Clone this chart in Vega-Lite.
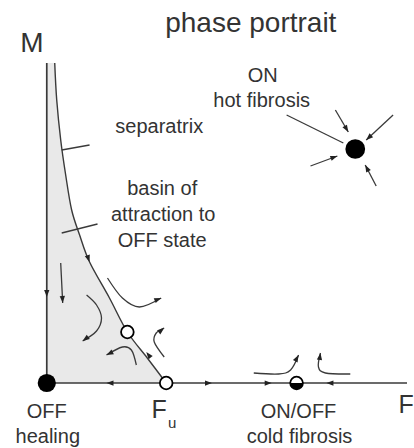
{
  "$schema": "https://vega.github.io/schema/vega-lite/v6.json",
  "width": 414,
  "height": 448,
  "autosize": {"type": "fit", "contains": "padding"},
  "padding": 0,
  "background": "white",
  "config": {"view": {"stroke": null}},
  "datasets": {
    "separatrix": [
      {"x": 0.8, "y": 32.0}, {"x": 1.0, "y": 28.3}, {"x": 1.4, "y": 24.3}, {"x": 1.9, "y": 20.8},
      {"x": 2.5, "y": 17.3}, {"x": 3.3, "y": 14.8}, {"x": 4.3, "y": 12.1}, {"x": 6.3, "y": 8.5},
      {"x": 8.1, "y": 5.1}, {"x": 10.1, "y": 2.5}, {"x": 12.0, "y": 0.0}
    ],
    "axes": [
      {"id": "M", "o": 1, "x": 0, "y": 32.0}, {"id": "M", "o": 2, "x": 0, "y": 0},
      {"id": "F", "o": 1, "x": 0, "y": 0}, {"id": "F", "o": 2, "x": 36.2, "y": 0}
    ],
    "lines": [
      {"id": "sepPointer", "o": 1, "x": 1.5, "y": 23.3}, {"id": "sepPointer", "o": 2, "x": 4.3, "y": 23.8},
      {"id": "basinPointer", "o": 1, "x": 1.5, "y": 15.0}, {"id": "basinPointer", "o": 2, "x": 5.1, "y": 15.9},
      {"id": "onPointer", "o": 1, "x": 24.1, "y": 26.8}, {"id": "onPointer", "o": 2, "x": 29.8, "y": 24.0},
      {"id": "a1", "o": 1, "x": 29.0, "y": 27.3}, {"id": "a1", "o": 2, "x": 30.3, "y": 25.1},
      {"id": "a2", "o": 1, "x": 34.8, "y": 26.8}, {"id": "a2", "o": 2, "x": 32.1, "y": 24.3},
      {"id": "a3", "o": 1, "x": 26.5, "y": 21.7}, {"id": "a3", "o": 2, "x": 29.2, "y": 22.7},
      {"id": "a4", "o": 1, "x": 33.1, "y": 19.7}, {"id": "a4", "o": 2, "x": 32.0, "y": 21.8},
      {"id": "f1", "o": 1, "x": 1.4, "y": 12.0}, {"id": "f1", "o": 2, "x": 1.5, "y": 10.0}, {"id": "f1", "o": 3, "x": 1.6, "y": 8.0},
      {"id": "f2", "o": 1, "x": 4.0, "y": 8.8}, {"id": "f2", "o": 2, "x": 5.0, "y": 7.8}, {"id": "f2", "o": 3, "x": 5.5, "y": 6.5},
      {"id": "f2", "o": 4, "x": 5.0, "y": 5.2}, {"id": "f2", "o": 5, "x": 3.6, "y": 4.2},
      {"id": "f3", "o": 1, "x": 6.1, "y": 10.5}, {"id": "f3", "o": 2, "x": 7.6, "y": 8.5}, {"id": "f3", "o": 3, "x": 9.3, "y": 7.6}, {"id": "f3", "o": 4, "x": 11.5, "y": 8.5},
      {"id": "f4", "o": 1, "x": 11.8, "y": 2.6}, {"id": "f4", "o": 2, "x": 10.8, "y": 4.1}, {"id": "f4", "o": 3, "x": 11.0, "y": 5.0}, {"id": "f4", "o": 4, "x": 11.8, "y": 5.5},
      {"id": "f5", "o": 1, "x": 9.0, "y": 1.8}, {"id": "f5", "o": 2, "x": 8.5, "y": 3.3}, {"id": "f5", "o": 3, "x": 7.6, "y": 3.6}, {"id": "f5", "o": 4, "x": 6.0, "y": 2.8},
      {"id": "g1", "o": 1, "x": 20.8, "y": 1.0}, {"id": "g1", "o": 2, "x": 23.3, "y": 0.9}, {"id": "g1", "o": 3, "x": 24.5, "y": 1.3}, {"id": "g1", "o": 4, "x": 25.3, "y": 2.8},
      {"id": "g2", "o": 1, "x": 30.5, "y": 0.9}, {"id": "g2", "o": 2, "x": 28.0, "y": 1.0}, {"id": "g2", "o": 3, "x": 27.3, "y": 1.6}, {"id": "g2", "o": 4, "x": 27.5, "y": 3.0}
    ],
    "arrowheads": [
      {"x": 0.0, "y": 8.6, "dir": 90},
      {"x": 1.6, "y": 8.0, "dir": 87},
      {"x": 4.3, "y": 12.1, "dir": 71},
      {"x": 3.6, "y": 4.2, "dir": 144},
      {"x": 11.5, "y": 8.5, "dir": 338},
      {"x": 11.8, "y": 5.5, "dir": 322},
      {"x": 6.0, "y": 2.8, "dir": 153},
      {"x": 10.0, "y": 3.1, "dir": 232},
      {"x": 6.0, "y": 0, "dir": 180},
      {"x": 16.6, "y": 0, "dir": 0},
      {"x": 22.6, "y": 0, "dir": 0},
      {"x": 28.1, "y": 0, "dir": 180},
      {"x": 25.3, "y": 2.8, "dir": 298},
      {"x": 27.5, "y": 3.0, "dir": 278},
      {"x": 30.3, "y": 25.1, "dir": 59},
      {"x": 32.1, "y": 24.3, "dir": 137},
      {"x": 29.2, "y": 22.7, "dir": 340},
      {"x": 32.0, "y": 21.8, "dir": 242}
    ],
    "points": [
      {"name": "OFF", "kind": "stable", "x": 0, "y": 0},
      {"name": "ON", "kind": "stablebig", "x": 31.0, "y": 23.4},
      {"name": "saddle", "kind": "unstable", "x": 8.1, "y": 5.1},
      {"name": "Fu", "kind": "unstable", "x": 12.0, "y": 0},
      {"name": "ON/OFF", "kind": "half", "x": 25.1, "y": 0}
    ],
    "texts": [
      {"kind": "title", "text": "phase portrait", "x": 20.5, "y": 35.1},
      {"kind": "title", "text": "M", "x": -1.5, "y": 33.1},
      {"kind": "label", "text": "separatrix", "x": 11.3, "y": 25.0},
      {"kind": "label", "text": "basin of", "x": 11.6, "y": 18.8},
      {"kind": "label", "text": "attraction to", "x": 11.7, "y": 16.2},
      {"kind": "label", "text": "OFF state", "x": 11.6, "y": 13.6},
      {"kind": "label", "text": "ON", "x": 21.7, "y": 30.1},
      {"kind": "label", "text": "hot fibrosis", "x": 21.6, "y": 27.6},
      {"kind": "label", "text": "OFF", "x": 0.0, "y": -3.5},
      {"kind": "label", "text": "healing", "x": 0.1, "y": -6.0},
      {"kind": "label", "text": "ON/OFF", "x": 25.3, "y": -3.5},
      {"kind": "label", "text": "cold fibrosis", "x": 25.4, "y": -6.0},
      {"kind": "axis", "text": "F", "x": 11.3, "y": -3.5},
      {"kind": "axis", "text": "F", "x": 36.1, "y": -3.0},
      {"kind": "sub", "text": "u", "x": 12.6, "y": -4.5}
    ]
  },
  "encoding": {
    "x": {"field": "x", "type": "quantitative", "scale": {"domain": [-4.7, 36.7], "nice": false, "zero": false}, "axis": null},
    "y": {"field": "y", "type": "quantitative", "scale": {"domain": [-6.5, 38.3], "nice": false, "zero": false}, "axis": null}
  },
  "layer": [
    {
      "data": {"name": "separatrix"},
      "mark": {"type": "area", "orient": "horizontal", "interpolate": "cardinal", "color": "#e9e9e9", "opacity": 1},
      "encoding": {"x2": {"datum": 0}}
    },
    {
      "data": {"name": "axes"},
      "mark": {"type": "line", "color": "#3a3a3a", "strokeWidth": 1.7},
      "encoding": {"detail": {"field": "id"}, "order": {"field": "o"}}
    },
    {
      "data": {"name": "separatrix"},
      "mark": {"type": "line", "interpolate": "cardinal", "color": "#3a3a3a", "strokeWidth": 1.4},
      "encoding": {"order": {"field": "y", "sort": "descending"}}
    },
    {
      "data": {"name": "lines"},
      "mark": {"type": "line", "interpolate": "cardinal", "color": "#3a3a3a", "strokeWidth": 1.3},
      "encoding": {"detail": {"field": "id"}, "order": {"field": "o"}}
    },
    {
      "data": {"name": "arrowheads"},
      "mark": {"type": "point", "shape": "M0,0 L-2,-0.75 L-2,0.75 Z", "filled": true, "color": "#222", "opacity": 1, "size": 49, "strokeWidth": 0},
      "encoding": {"angle": {"field": "dir", "type": "quantitative", "scale": null}}
    },
    {
      "data": {"name": "points"},
      "transform": [{"filter": "datum.kind === 'stable'"}],
      "mark": {"type": "point", "shape": "circle", "filled": true, "color": "black", "opacity": 1, "size": 330}
    },
    {
      "data": {"name": "points"},
      "transform": [{"filter": "datum.kind === 'stablebig'"}],
      "mark": {"type": "point", "shape": "circle", "filled": true, "color": "black", "opacity": 1, "size": 390}
    },
    {
      "data": {"name": "points"},
      "transform": [{"filter": "datum.kind === 'unstable' || datum.kind === 'half'"}],
      "mark": {"type": "point", "shape": "circle", "filled": true, "fill": "white", "stroke": "black", "strokeWidth": 1.8, "opacity": 1, "size": 160}
    },
    {
      "data": {"name": "points"},
      "transform": [{"filter": "datum.kind === 'half'"}],
      "mark": {"type": "point", "shape": "M-1,0 L1,0 L0.92,0.38 L0.71,0.71 L0.38,0.92 L0,1 L-0.38,0.92 L-0.71,0.71 L-0.92,0.38 Z", "filled": true, "color": "black", "opacity": 1, "size": 160, "strokeWidth": 0}
    },
    {
      "data": {"name": "texts"},
      "transform": [{"filter": "datum.kind === 'title'"}],
      "mark": {"type": "text", "font": "Liberation Sans", "fontSize": 28, "align": "center", "baseline": "alphabetic", "color": "#333"},
      "encoding": {"text": {"field": "text"}}
    },
    {
      "data": {"name": "texts"},
      "transform": [{"filter": "datum.kind === 'label'"}],
      "mark": {"type": "text", "font": "Liberation Sans", "fontSize": 20, "align": "center", "baseline": "alphabetic", "color": "#333"},
      "encoding": {"text": {"field": "text"}}
    },
    {
      "data": {"name": "texts"},
      "transform": [{"filter": "datum.kind === 'axis'"}],
      "mark": {"type": "text", "font": "Liberation Sans", "fontSize": 25, "align": "center", "baseline": "alphabetic", "color": "#333"},
      "encoding": {"text": {"field": "text"}}
    },
    {
      "data": {"name": "texts"},
      "transform": [{"filter": "datum.kind === 'sub'"}],
      "mark": {"type": "text", "font": "Liberation Sans", "fontSize": 15, "align": "center", "baseline": "alphabetic", "color": "#333"},
      "encoding": {"text": {"field": "text"}}
    }
  ]
}
